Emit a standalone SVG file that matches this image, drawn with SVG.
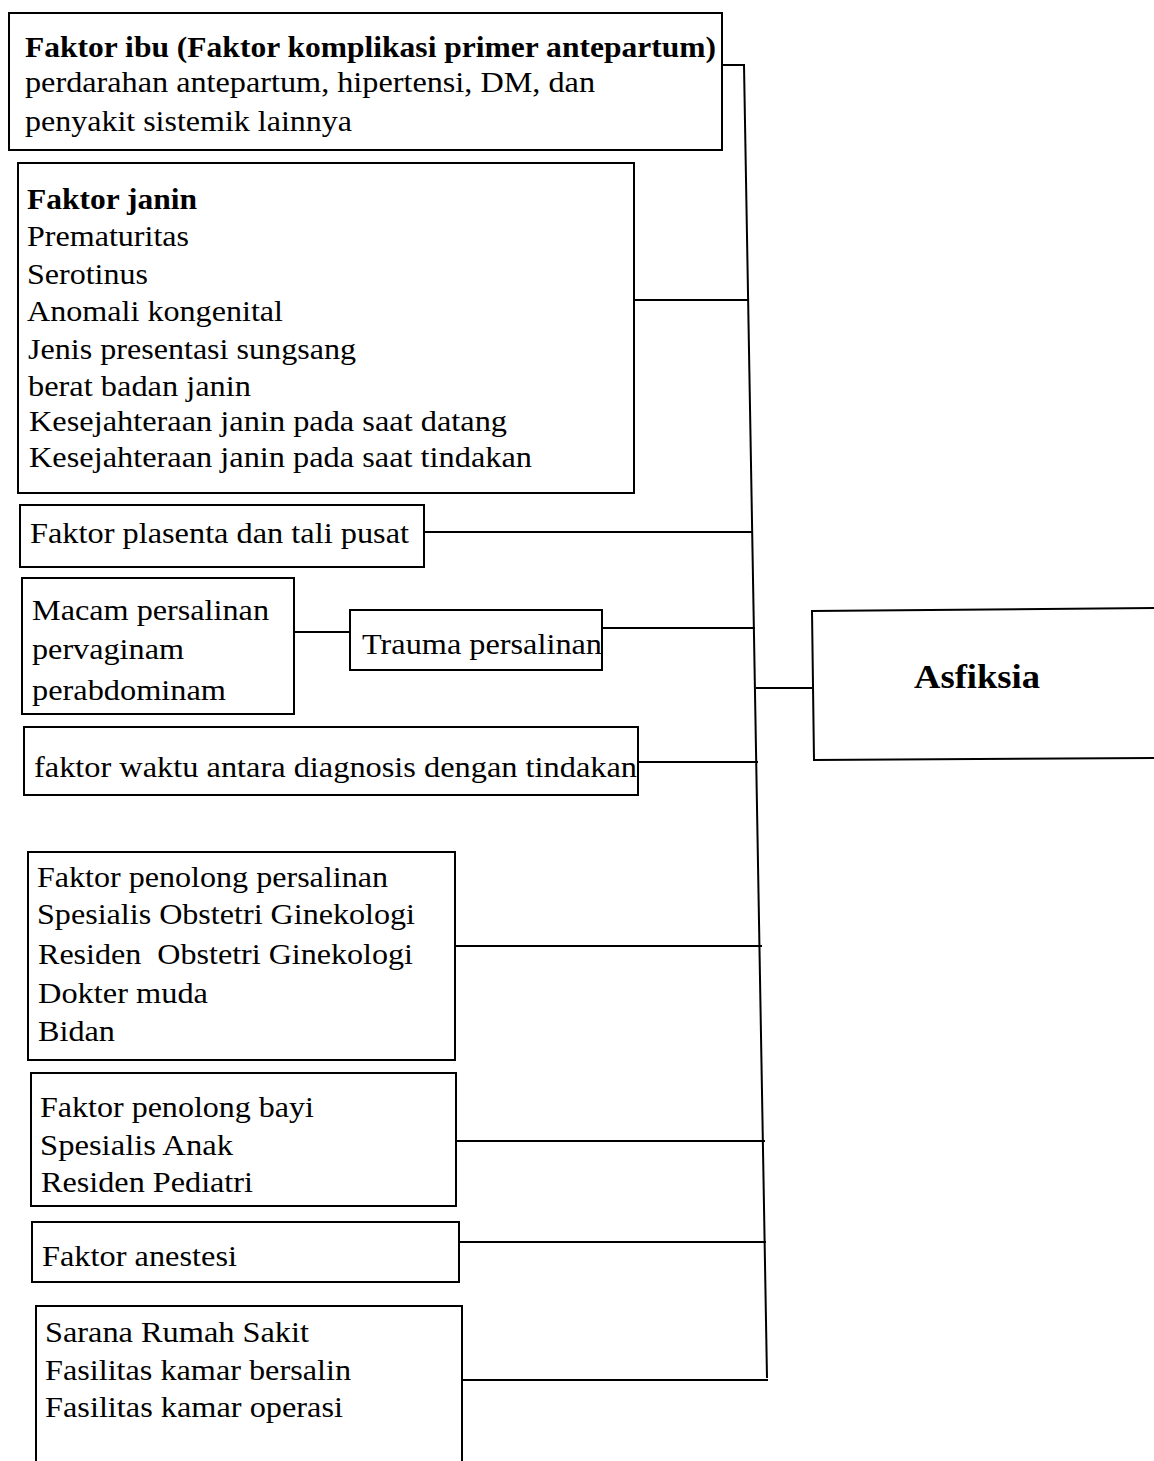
<svg xmlns="http://www.w3.org/2000/svg" width="1154" height="1461" viewBox="0 0 1154 1461">
<style>
.box{fill:#fff;stroke:#000;stroke-width:2}
.ln{stroke:#000;stroke-width:2;fill:none}
.t{font-family:"Liberation Serif","Times New Roman",serif;font-size:30px;fill:#000}
.b{font-weight:bold}
.big{font-size:33px}
</style>
<rect width="1154" height="1461" fill="#fff"/>
<g id="connectors">
<path class="ln" d="M744,65 L767,1378"/>
<path class="ln" d="M722,65 H745"/>
<path class="ln" d="M634,300 H748"/>
<path class="ln" d="M424,532 H752"/>
<path class="ln" d="M294,632 H350"/>
<path class="ln" d="M602,628 H755"/>
<path class="ln" d="M756,688 H812"/>
<path class="ln" d="M638,762 H758"/>
<path class="ln" d="M455,946 H762"/>
<path class="ln" d="M456,1141 H765"/>
<path class="ln" d="M459,1242 H766"/>
<path class="ln" d="M462,1380 H768"/>
</g>
<g id="n-ibu">
<rect class="box" x="9" y="13" width="713" height="137"/>
<text class="t b" x="25" y="57" textLength="691" lengthAdjust="spacingAndGlyphs">Faktor ibu (Faktor komplikasi primer antepartum)</text>
<text class="t" x="25" y="92" textLength="570" lengthAdjust="spacingAndGlyphs">perdarahan antepartum, hipertensi, DM, dan</text>
<text class="t" x="25" y="131" textLength="327" lengthAdjust="spacingAndGlyphs">penyakit sistemik lainnya</text>
</g>
<g id="n-janin">
<rect class="box" x="18" y="163" width="616" height="330"/>
<text class="t b" x="27" y="209" textLength="170" lengthAdjust="spacingAndGlyphs">Faktor janin</text>
<text class="t" x="27" y="246" textLength="162" lengthAdjust="spacingAndGlyphs">Prematuritas</text>
<text class="t" x="27" y="284" textLength="121" lengthAdjust="spacingAndGlyphs">Serotinus</text>
<text class="t" x="27" y="321" textLength="256" lengthAdjust="spacingAndGlyphs">Anomali kongenital</text>
<text class="t" x="28" y="359" textLength="328" lengthAdjust="spacingAndGlyphs">Jenis presentasi sungsang</text>
<text class="t" x="28" y="396" textLength="223" lengthAdjust="spacingAndGlyphs">berat badan janin</text>
<text class="t" x="29" y="431" textLength="478" lengthAdjust="spacingAndGlyphs">Kesejahteraan janin pada saat datang</text>
<text class="t" x="29" y="467" textLength="503" lengthAdjust="spacingAndGlyphs">Kesejahteraan janin pada saat tindakan</text>
</g>
<g id="n-plasenta">
<rect class="box" x="20" y="505" width="404" height="62"/>
<text class="t" x="30" y="543" textLength="379" lengthAdjust="spacingAndGlyphs">Faktor plasenta dan tali pusat</text>
</g>
<g id="n-macam">
<rect class="box" x="22" y="578" width="272" height="136"/>
<text class="t" x="32" y="620" textLength="237" lengthAdjust="spacingAndGlyphs">Macam persalinan</text>
<text class="t" x="32" y="659" textLength="152" lengthAdjust="spacingAndGlyphs">pervaginam</text>
<text class="t" x="32" y="700" textLength="194" lengthAdjust="spacingAndGlyphs">perabdominam</text>
</g>
<g id="n-trauma">
<rect class="box" x="350" y="610" width="252" height="60"/>
<text class="t" x="362" y="654" textLength="240" lengthAdjust="spacingAndGlyphs">Trauma persalinan</text>
</g>
<g id="n-asfiksia">
<path class="ln" d="M1154,608 L812,611 L814,760 L1154,758"/>
<text class="t b big" x="914" y="688" textLength="126" lengthAdjust="spacingAndGlyphs">Asfiksia</text>
</g>
<g id="n-waktu">
<rect class="box" x="24" y="727" width="614" height="68"/>
<text class="t" x="34" y="777" textLength="603" lengthAdjust="spacingAndGlyphs">faktor waktu antara diagnosis dengan tindakan</text>
</g>
<g id="n-penolong-persalinan">
<rect class="box" x="28" y="852" width="427" height="208"/>
<text class="t" x="37" y="887" textLength="351" lengthAdjust="spacingAndGlyphs">Faktor penolong persalinan</text>
<text class="t" x="37" y="924" textLength="378" lengthAdjust="spacingAndGlyphs">Spesialis Obstetri Ginekologi</text>
<text class="t" x="38" y="964" textLength="375" lengthAdjust="spacingAndGlyphs" xml:space="preserve">Residen  Obstetri Ginekologi</text>
<text class="t" x="38" y="1003" textLength="170" lengthAdjust="spacingAndGlyphs">Dokter muda</text>
<text class="t" x="38" y="1041" textLength="77" lengthAdjust="spacingAndGlyphs">Bidan</text>
</g>
<g id="n-penolong-bayi">
<rect class="box" x="31" y="1073" width="425" height="133"/>
<text class="t" x="40" y="1117" textLength="274" lengthAdjust="spacingAndGlyphs">Faktor penolong bayi</text>
<text class="t" x="40" y="1155" textLength="193" lengthAdjust="spacingAndGlyphs">Spesialis Anak</text>
<text class="t" x="41" y="1192" textLength="212" lengthAdjust="spacingAndGlyphs">Residen Pediatri</text>
</g>
<g id="n-anestesi">
<rect class="box" x="32" y="1222" width="427" height="60"/>
<text class="t" x="42" y="1266" textLength="195" lengthAdjust="spacingAndGlyphs">Faktor anestesi</text>
</g>
<g id="n-sarana">
<rect class="box" x="36" y="1306" width="426" height="160"/>
<text class="t" x="45" y="1342" textLength="264" lengthAdjust="spacingAndGlyphs">Sarana Rumah Sakit</text>
<text class="t" x="45" y="1380" textLength="306" lengthAdjust="spacingAndGlyphs">Fasilitas kamar bersalin</text>
<text class="t" x="45" y="1417" textLength="298" lengthAdjust="spacingAndGlyphs">Fasilitas kamar operasi</text>
</g>
</svg>
